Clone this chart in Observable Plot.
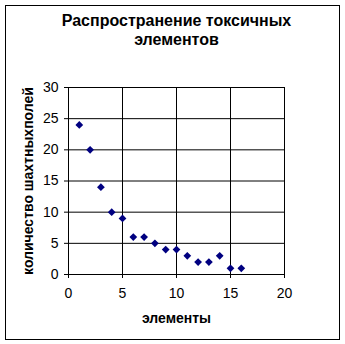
<!DOCTYPE html>
<html><head><meta charset="utf-8">
<script src="https://cdn.jsdelivr.net/npm/d3@7"></script>
<script src="https://cdn.jsdelivr.net/npm/@observablehq/plot@0.6"></script>
<style>
html,body{margin:0;padding:0;background:#fff;}
#wrap{position:relative;width:345px;height:344px;overflow:hidden;}
#wrap svg{position:absolute;left:0;top:0;}
#border{position:absolute;left:5px;top:5px;width:335px;height:335px;border:1px solid #000;box-sizing:border-box;pointer-events:none;}
</style></head><body><div id="wrap"><div id="border"></div></div>
<script>
const titleLines = ["Распространение токсичных", "элементов"];
const xLabel = "элементы";
const yLabel = "количество шахтныхполей";
const elements = [1, 2, 3, 4, 5, 6, 7, 8, 9, 10, 11, 12, 13, 14, 15, 16];
const counts = [24, 20, 14, 10, 9, 6, 6, 5, 4, 4, 3, 2, 2, 3, 1, 1];
const xTicks = [0, 5, 10, 15, 20];
const yTicks = [0, 5, 10, 15, 20, 25, 30];

const data = elements.map((e, i) => ({x: e, y: counts[i]}));
const font = "'Liberation Sans', Arial, sans-serif";

const chart = Plot.plot({
  width: 345,
  height: 344,
  marginLeft: 68,
  marginRight: 61,
  marginTop: 87,
  marginBottom: 70,
  style: {fontFamily: font, fontSize: "14px", color: "#000", background: "transparent"},
  x: {domain: [0, 20]},
  y: {domain: [0, 30]},
  marks: [
    Plot.gridX(xTicks.slice(1, -1), {stroke: "#000", strokeOpacity: 1}),
    Plot.gridY(yTicks.slice(1, -1), {stroke: "#000", strokeOpacity: 1}),
    Plot.frame({stroke: "#000"}),
    Plot.axisX(xTicks, {tickSize: 4, tickPadding: 10, label: null, stroke: "#000"}),
    Plot.axisY(yTicks, {tickSize: 4, tickPadding: 6, label: null, stroke: "#000"}),
    Plot.dot(data, {x: "x", y: "y", symbol: "diamond2", r: 3.5, fill: "#000080", stroke: "none"}),
    Plot.text([titleLines[0]], {frameAnchor: "top", dy: -67, text: d => d, fontSize: 16, fontWeight: "bold", lineAnchor: "middle", fill: "#000"}),
    Plot.text([titleLines[1]], {frameAnchor: "top", dy: -48, text: d => d, fontSize: 16, fontWeight: "bold", lineAnchor: "middle", fill: "#000"}),
    Plot.text([xLabel], {frameAnchor: "bottom", dy: 44, text: d => d, fontSize: 14, fontWeight: "bold", lineAnchor: "middle", fill: "#000"}),
    Plot.text([yLabel], {frameAnchor: "left", dx: -40, rotate: -90, textAnchor: "middle", text: d => d, fontSize: 14, fontWeight: "bold", lineAnchor: "middle", fill: "#000"})
  ]
});
document.getElementById("wrap").prepend(chart);
</script>
</body></html>
